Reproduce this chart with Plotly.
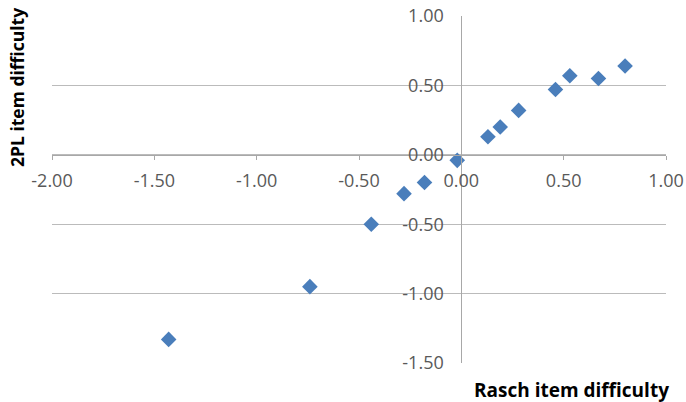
import plotly.graph_objects as go

# Data
rasch = [-1.43, -0.74, -0.44, -0.28, -0.18, -0.02, 0.13, 0.19, 0.28, 0.46, 0.53, 0.67, 0.80]
two_pl = [-1.33, -0.95, -0.50, -0.28, -0.20, -0.04, 0.13, 0.20, 0.32, 0.47, 0.57, 0.55, 0.64]

x_ticks = [-2.0, -1.5, -1.0, -0.5, 0.0, 0.5, 1.0]
x_tick_labels = ["-2.00", "-1.50", "-1.00", "-0.50", "0.00", "0.50", "1.00"]
y_ticks = [-1.5, -1.0, -0.5, 0.0, 0.5, 1.0]
y_tick_labels = ["-1.50", "-1.00", "-0.50", "0.00", "0.50", "1.00"]

x_title = "Rasch item difficulty"
y_title = "2PL item difficulty"

FONT = "Open Sans"
TICK_COLOR = "#595959"
GRID = "#BBBBBB"
AXIS = "#A8A8A8"

W, H = 686, 402
ML, MR, MT, MB = 52, 20, 16, 39
PW, PH = W - ML - MR, H - MT - MB

fig = go.Figure()
fig.add_trace(go.Scatter(
    x=rasch, y=two_pl, mode="markers",
    marker=dict(symbol="diamond", size=12, color="#4A7EBB", line=dict(width=0)),
    showlegend=False, hoverinfo="x+y",
))

fig.update_layout(
    template="none",
    width=W, height=H,
    margin=dict(l=ML, r=MR, t=MT, b=MB, autoexpand=False),
    paper_bgcolor="white", plot_bgcolor="white",
    font=dict(family=FONT, color=TICK_COLOR, size=18),
    xaxis=dict(
        range=[-2, 1], tickvals=x_ticks, ticktext=x_tick_labels,
        showgrid=False, zeroline=False, automargin=False,
        showline=True, linecolor=AXIS, linewidth=1,
        ticks="outside", ticklen=4, tickcolor=AXIS,
        anchor="free", position=0.6,
        tickfont=dict(family=FONT, size=18, color=TICK_COLOR),
        ticklabelstandoff=6, ticklabeloverflow="allow",
    ),
    yaxis=dict(
        range=[-1.5, 1.0], tickvals=y_ticks, ticktext=y_tick_labels,
        showgrid=True, gridcolor=GRID, gridwidth=1, zeroline=False, automargin=False,
        showline=True, linecolor=AXIS, linewidth=1,
        ticks="", anchor="free", position=2/3, side="left",
        tickfont=dict(family=FONT, size=18, color=TICK_COLOR),
        ticklabelstandoff=14, ticklabeloverflow="allow",
    ),
    annotations=[
        dict(text="<b>" + x_title + "</b>", xref="paper", yref="paper",
             x=(571 - ML) / PW, y=-(390 - (H - MB)) / PH, xanchor="center", yanchor="middle",
             showarrow=False, font=dict(family=FONT, size=19, color="black")),
        dict(text="<b>" + y_title + "</b>", xref="paper", yref="paper",
             x=-(ML - 17) / PW, y=((H - MB) - 88) / PH, xanchor="center", yanchor="middle",
             textangle=-90, showarrow=False,
             font=dict(family=FONT, size=17.5, color="black")),
    ],
)

fig.write_html("out.html", config={"displayModeBar": False},
               post_script="document.body.style.margin='0';")
